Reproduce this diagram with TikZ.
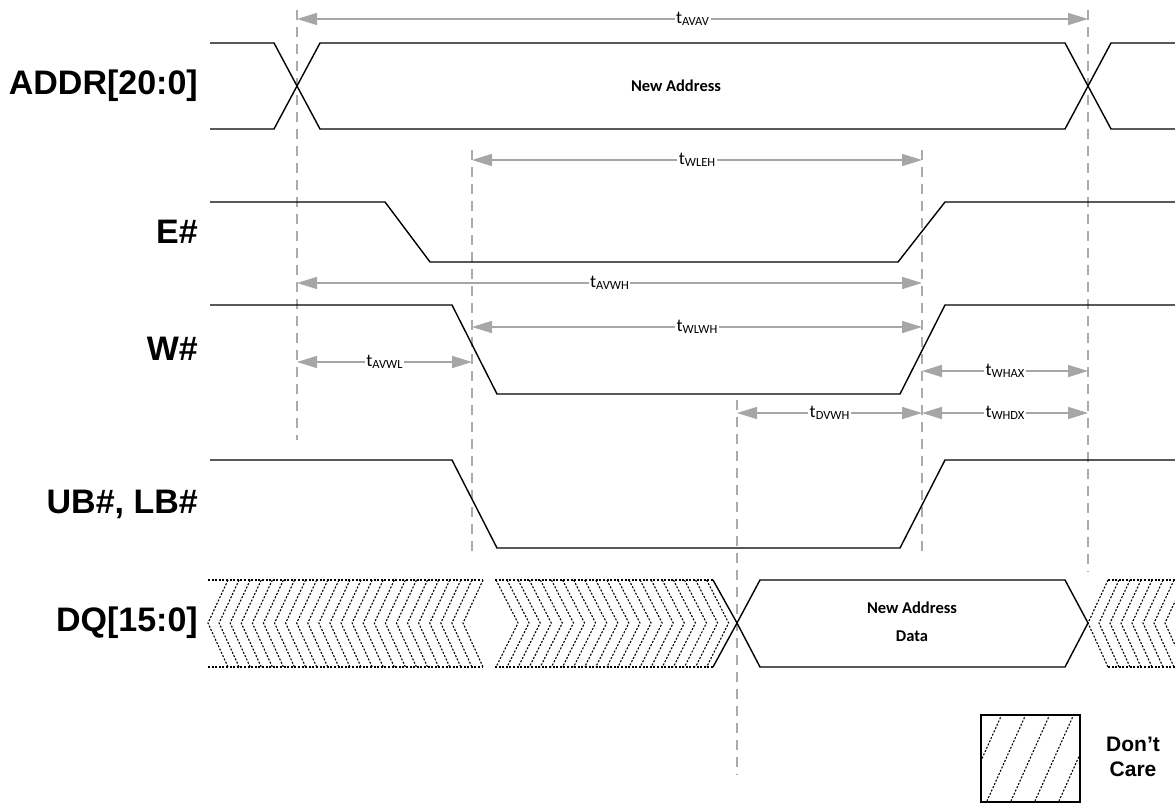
\documentclass[tikz,border=0pt]{standalone}
\usepackage{fontspec}
\setmainfont{Liberation Sans}
\newfontfamily\calfont{Carlito}
\usetikzlibrary{arrows.meta}
\definecolor{guide}{HTML}{ABABAB}
\definecolor{arrowgray}{HTML}{A6A6A6}
\newcommand{\tlab}[1]{{\calfont\fontsize{18}{18}\selectfont t\raisebox{-1.5pt}{\fontsize{12.5}{12.5}\selectfont #1}}}
\tikzset{
  sig/.style={line width=1.4pt, black, line join=miter},
  hatch/.style={line width=1.1pt, black, dash pattern=on 2pt off 1.6pt},
  guideline/.style={line width=1.5pt, guide, dash pattern=on 10pt off 7pt},
  tarr/.style={line width=1.5pt, arrowgray, {Triangle[length=20pt,width=12pt]}-{Triangle[length=20pt,width=12pt]}, shorten <=0pt, shorten >=0pt},
  lbl/.style={fill=white, inner sep=1.5pt, text=black},
  siglabel/.style={anchor=east, font=\fontsize{34}{34}\selectfont\bfseries, inner sep=0pt},
}
\begin{document}
\begin{tikzpicture}[x=1pt,y=-1pt]
\useasboundingbox (0,0) rectangle (1175,803);

% signal labels
\node[siglabel] (lA) at (198,86) {ADDR[20:0]};
\node[siglabel] (lE) at (198,232) {E\#};
\node[siglabel] (lW) at (198,349) {W\#};
\node[siglabel] (lU) at (198,504) {UB\#, LB\#};
\node[siglabel] (lD) at (198,623) {DQ[15:0]};

% guide lines
\draw[guideline] (297,10) -- (297,440);
\draw[guideline] (472,150) -- (472,555);
\draw[guideline] (737,400) -- (737,775);
\draw[guideline] (922,150) -- (922,555);
\draw[guideline] (1088,10) -- (1088,572);

% ADDR
\draw[sig] (210,43) -- (274,43) -- (320,129) -- (1065,129) -- (1111,43) -- (1175,43);
\draw[sig] (210,129) -- (274,129) -- (320,43) -- (1065,43) -- (1111,129) -- (1175,129);
\node[font=\calfont\bfseries\fontsize{16.5}{16.5}\selectfont] (na) at (676,86) {New Address};

% E#
\draw[sig] (210,202) -- (385,202) -- (430,262) -- (898,262) -- (945,202) -- (1175,202);
% W#
\draw[sig] (210,305) -- (452,305) -- (497,394) -- (900,394) -- (945,305) -- (1175,305);
% UB#, LB#
\draw[sig] (210,460) -- (452,460) -- (497,548) -- (900,548) -- (945,460) -- (1175,460);

% DQ
\draw[sig] (737,623) -- (760,580) -- (1065,580) -- (1088,623) -- (1065,667) -- (760,667) -- cycle;
\draw[sig] (713,580) -- (737,623) -- (713,667);
\node[font=\calfont\bfseries\fontsize{16.5}{28}\selectfont, align=center] (nd) at (912,622) {New Address\\Data};

% don't care hatching
\draw[hatch] (208,580) -- (483,580);
\draw[hatch] (208,667) -- (483,667);
\draw[hatch] (495,580) -- (713,580);
\draw[hatch] (495,667) -- (713,667);
\draw[hatch] (1108,580) -- (1175,580);
\draw[hatch] (1108,667) -- (1175,667);
\foreach \k in {0,...,23} {
  \pgfmathsetmacro{\m}{208+\k*11.087}
  \draw[hatch] (\m+20,580) -- (\m,623) -- (\m+20,667);
}
\foreach \k in {0,...,19} {
  \pgfmathsetmacro{\m}{518+\k*11.087}
  \draw[hatch] (\m-22,580) -- (\m,623) -- (\m-22,667);
}
\begin{scope}
\clip (1080,570) rectangle (1175,680);
\foreach \k in {0,...,7} {
  \pgfmathsetmacro{\m}{1088+\k*11}
  \draw[hatch] (\m+20,580) -- (\m,623) -- (\m+20,667);
}
\end{scope}

% timing coordinates
\coordinate (avav1) at (297,19);  \coordinate (avav2) at (1088,19);
\coordinate (wleh1) at (472,160); \coordinate (wleh2) at (922,160);
\coordinate (avwh1) at (297,283); \coordinate (avwh2) at (922,283);
\coordinate (wlwh1) at (472,327); \coordinate (wlwh2) at (922,327);
\coordinate (avwl1) at (297,362); \coordinate (avwl2) at (472,362);
\coordinate (whax1) at (922,371); \coordinate (whax2) at (1088,371);
\coordinate (dvwh1) at (737,413); \coordinate (dvwh2) at (922,413);
\coordinate (whdx1) at (922,413); \coordinate (whdx2) at (1088,413);

\draw[tarr] (avav1) -- node[lbl] (tavav) {\tlab{AVAV}} (avav2);
\draw[tarr] (wleh1) -- node[lbl] (twleh) {\tlab{WLEH}} (wleh2);
\draw[tarr] (avwh1) -- node[lbl] (tavwh) {\tlab{AVWH}} (avwh2);
\draw[tarr] (wlwh1) -- node[lbl] (twlwh) {\tlab{WLWH}} (wlwh2);
\draw[tarr] (avwl1) -- node[lbl] (tavwl) {\tlab{AVWL}} (avwl2);
\draw[tarr] (whax1) -- node[lbl] (twhax) {\tlab{WHAX}} (whax2);
\draw[tarr] (dvwh1) -- node[lbl] (tdvwh) {\tlab{DVWH}} (dvwh2);
\draw[tarr] (whdx1) -- node[lbl] (twhdx) {\tlab{WHDX}} (whdx2);

% legend
\node[draw, line width=1.5pt, minimum width=99pt, minimum height=87pt, inner sep=0pt, anchor=north west] (leg) at (980,714) {};
\begin{scope}
\clip (980,714) rectangle (1079,801);
\foreach \t in {978,1002,1026,1050,1074,1098} {
  \draw[hatch] (\t,714) -- (\t-39,801);
}
\end{scope}
\node[font=\fontsize{21}{25}\selectfont\bfseries, align=center] (legtxt) at (1133,757) {Don’t\\Care};
\end{tikzpicture}
\end{document}
